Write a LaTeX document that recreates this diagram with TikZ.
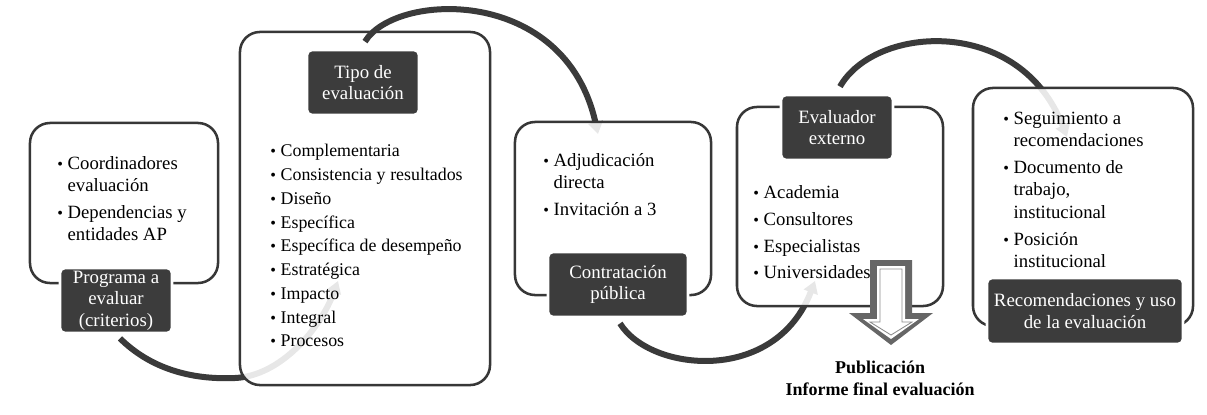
\documentclass[tikz,border=0pt]{standalone}
\usepackage{fontspec}
\setmainfont{Liberation Serif}
\usetikzlibrary{arrows.meta}
\definecolor{linegray}{RGB}{55,55,55}
\definecolor{tagfill}{RGB}{60,60,60}
\definecolor{arcgray}{RGB}{58,58,58}
\definecolor{blockgray}{RGB}{102,102,102}
\definecolor{thingray}{RGB}{140,140,140}
\newlength{\bulw}\setlength{\bulw}{0.26cm}
\newcommand{\itm}{\par\noindent\hangindent=\bulw\hangafter=1\makebox[\bulw][l]{\fontsize{11.5}{11.5}\selectfont\textbullet}}
\newcommand{\listfont}{\fontsize{13.3}{16}\selectfont\setlength{\parskip}{3.2pt}}
\newcommand{\listfontsm}{\fontsize{12.7}{16}\selectfont\setlength{\parskip}{0.9pt}}
\begin{document}
\begin{tikzpicture}[x=0.025cm, y=-0.025cm,
% common options for the framed panels:
panel/.style = {draw=linegray, line width=1.8pt, rounded corners=0.5cm,
            fill=white, fill opacity=0.88, draw opacity=1, inner sep=0},
% common options for the dark titles:
tag/.style = {fill=tagfill, draw=white, line width=2pt, rounded corners=0.12cm,
            text=white, align=center, inner sep=0, minimum height=1.625cm,
            font=\fontsize{13.4}{15.4}\selectfont},
% lists inside the panels:
list/.style = {anchor=base west, inner sep=0, text width=5.2cm},
% curved connectors:
flow/.style = {draw=arcgray, line width=0.15cm,
            -{Triangle[width=0.36cm,length=0.3cm]}}]
\useasboundingbox (0,0) rectangle (1207,414);
% first panel and its connector
\node[panel, minimum width=4.7cm, minimum height=4cm] (prog) at (124,203) {};
\node[tag, minimum width=2.8cm] (progtag) at (116,300.5) {Programa a\\evaluar\\(criterios)};
\coordinate (tipA) at (338,281);
\draw[flow] ([shift={(4,4)}]progtag.south) .. controls (150,368) and (190,380) .. (235,378)
    .. controls (280,376) and (320,330) .. (tipA);
% second panel
\node[panel, minimum width=6.25cm, minimum height=8.825cm] (tipo) at (365,208.5) {};
\node[tag, minimum width=2.8cm] (tipotag) at (363,82.5) {Tipo de\\evaluación};
\coordinate (tipB) at (598,134);
\draw[flow] ([shift={(2,-7)}]tipotag.north) .. controls (395,-8) and (565,-15) .. (tipB);
% third panel
\node[panel, minimum width=4.9cm, minimum height=4.325cm] (contr) at (613,208.5) {};
\node[tag, minimum width=3.5cm] (contrtag) at (618,284.5) {Contratación\\pública};
\coordinate (tipC) at (815,281);
\draw[flow] ([shift={(2,5)}]contrtag.south) .. controls (650,372) and (775,385) .. (tipC);
% fourth panel
\node[panel, minimum width=5.15cm, minimum height=4.975cm] (evalr) at (840,206.5) {};
\node[tag, minimum width=2.8cm] (evalrtag) at (837,127.5) {Evaluador\\externo};
\coordinate (tipD) at (1067,137);
\draw[flow] ([shift={(3,-7)}]evalrtag.north) .. controls (875,25) and (1020,15) .. (tipD);
% fifth panel
\node[panel, minimum width=5.5cm, minimum height=5.95cm] (recom) at (1083,207) {};
\node[tag, minimum width=4.9cm, minimum height=1.65cm] (recomtag) at (1085,311) {Recomendaciones y uso\\de la evaluación};
% lists
\node[list] (progl) at (57,142) {\listfont
  \itm Coordinadores\newline evaluación
  \itm Dependencias y\newline entidades AP\par};
\node[list] (tipol) at (270,133) {\listfontsm
  \itm Complementaria
  \itm Consistencia y resultados
  \itm Diseño
  \itm Específica
  \itm Específica de desempeño
  \itm Estratégica
  \itm Impacto
  \itm Integral
  \itm Procesos\par};
\node[list] (contrl) at (543,139) {\listfont
  \itm Adjudicación\newline directa
  \itm Invitación a 3\par};
\node[list] (evalrl) at (753,171) {\listfont
  \itm Academia
  \itm Consultores
  \itm Especialistas
  \itm Universidades\par};
\node[list] (recoml) at (1003,97) {\listfont
  \itm Seguimiento a\newline recomendaciones
  \itm Documento de\newline trabajo,\newline institucional
  \itm Posición\newline institucional\par};
% publication arrow
\fill[blockgray] (870,260) -- (912,260) -- (912,313) -- (933,313) -- (891,345)
    -- (849,313) -- (870,313) -- cycle;
\fill[white] (877,266) -- (905,266) -- (905,319) -- (919,319) -- (891,339)
    -- (863,319) -- (877,319) -- cycle;
\draw[thingray, line width=0.6pt] (880,269) -- (902,269) -- (902,322) -- (912,322) -- (891,335)
    -- (870,322) -- (880,322) -- cycle;
\node[align=center, font=\fontsize{12.8}{15.6}\selectfont\bfseries] (publ) at (880,378)
  {Publicación\\Informe final evaluación};
\end{tikzpicture}
\end{document}
